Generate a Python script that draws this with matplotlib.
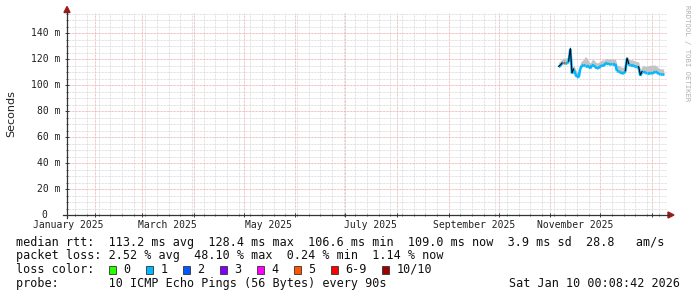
import numpy as np
import pandas as pd
import matplotlib
matplotlib.use("Agg")
import matplotlib.pyplot as plt
import matplotlib.dates as mdates
from matplotlib.patches import Polygon, Rectangle
from matplotlib.lines import Line2D
from matplotlib.collections import LineCollection

# ---------------- data ----------------
start_time = "2025-01-15 00:08:42"
end_time = "2026-01-10 00:08:42"
data_start = "2025-11-06"

median_ms = [114.5, 115.5, 117.0, 118.0, 117.0, 117.5, 118.5, 128.4, 109.5, 112.5,
             109.0, 107.0, 106.6, 113.5, 115.5, 116.0, 115.5, 115.5, 115.0, 113.5,
             116.0, 115.8, 114.5, 113.5, 113.8, 115.0, 115.8, 115.3, 117.3, 117.5,
             116.5, 116.8, 116.5, 116.5, 116.8, 111.5, 111.0, 110.5, 109.5, 109.8,
             111.0, 121.0, 116.5, 115.8, 115.8, 115.5, 114.8, 114.5, 114.3, 107.8,
             110.5, 111.0, 110.0, 109.7, 109.7, 109.8, 109.7, 110.0, 111.0, 110.5,
             109.2, 109.0, 109.0, 109.0]
smoke_hi_ms = [117.5, 118.5, 120.0, 121.0, 120.5, 121.0, 121.5, 128.4, 113.0, 115.5,
               112.5, 110.0, 110.0, 117.0, 119.0, 119.5, 122.0, 121.0, 118.5, 117.0,
               119.5, 119.5, 118.0, 117.0, 117.5, 118.5, 119.5, 119.0, 120.4, 120.5,
               120.0, 120.3, 120.0, 120.0, 120.3, 115.5, 115.0, 114.5, 113.5, 114.0,
               115.0, 122.0, 120.0, 119.5, 119.5, 119.0, 118.5, 118.0, 118.0, 111.5,
               114.5, 115.0, 114.5, 114.5, 115.0, 115.3, 115.3, 115.3, 115.5, 114.5,
               113.0, 112.5, 112.5, 112.5]
loss_cat = [1] * 64
loss_cat[3] = 5
black_segments = [(0, 2), (6, 9), (40, 42), (48, 50)]

y_ticks = [0, 20, 40, 60, 80, 100, 120, 140]
y_tick_labels = ["0  ", "20 m", "40 m", "60 m", "80 m", "100 m", "120 m", "140 m"]
month_labels = ["January 2025", "March 2025", "May 2025", "July 2025",
                "September 2025", "November 2025"]
label_dates = ["2025-01-16", "2025-03-16", "2025-05-16", "2025-07-16",
               "2025-09-16", "2025-11-16"]

loss_names = ["0", "1", "2", "3", "4", "5", "6-9", "10/10"]
loss_colors = ["#26ff00", "#00b8ff", "#0059ff", "#7e00ff", "#ff00ff", "#ff5500",
               "#ff0000", "#a10000"]
loss_color_map = {0: "#26ff00", 1: "#00b8ff", 2: "#0059ff", 3: "#7e00ff",
                  4: "#ff00ff", 5: "#ff5500", 6: "#ff0000", 10: "#a10000"}

line_rtt = "median rtt:  113.2 ms avg  128.4 ms max  106.6 ms min  109.0 ms now  3.9 ms sd  28.8   am/s"
line_loss = "packet loss: 2.52 % avg  48.10 % max  0.24 % min  1.14 % now"
line_probe = "probe:       10 ICMP Echo Pings (56 Bytes) every 90s"
now_stamp = "Sat Jan 10 00:08:42 2026"
watermark = "RRDTOOL / TOBI OETIKER"

# ---------------- figure ----------------
W, H = 697, 297
fig = plt.figure(figsize=(W / 100, H / 100), dpi=100, facecolor="white")
MONO = "DejaVu Sans Mono"

def fx(x):
    return x / W

def fy(y):
    return 1 - y / H

L, R, T, B = 67, 667, 13, 215
ax = fig.add_axes([fx(L), fy(B), fx(R) - fx(L), fy(T) - fy(B)])
ax.set_facecolor("white")

t0 = pd.Timestamp(start_time)
t1 = pd.Timestamp(end_time)
ax.set_xlim(mdates.date2num(t0), mdates.date2num(t1))
ax.set_ylim(0, 155.5)

for s in ax.spines.values():
    s.set_visible(False)

# grid
ax.xaxis.set_major_locator(mdates.MonthLocator())
ax.xaxis.set_minor_locator(mdates.WeekdayLocator(byweekday=mdates.MO))
ax.set_yticks(y_ticks)
ax.set_yticks(np.arange(0, 156, 5), minor=True)
dot = (0, (0.72, 0.72))
ax.grid(which="minor", color="#d8d8d8", linestyle=dot, linewidth=0.72)
ax.grid(which="major", color="#eeaaaa", linestyle=dot, linewidth=0.72)
ax.set_axisbelow(True)

ax.set_xticklabels([])
ax.set_yticklabels([])
ax.tick_params(which="major", direction="inout", length=3.0, width=0.72, color="#404040")
ax.tick_params(which="minor", direction="inout", length=1.5, width=0.72, color="#606060")

# data
dates = pd.date_range(data_start, periods=len(median_ms), freq="D")
xd = mdates.date2num(dates)
med = np.array(median_ms)
hi = np.array(smoke_hi_ms)
ax.fill_between(xd, med - 1.0, hi, color="#c4c4c4", linewidth=0, zorder=2)
pts = np.column_stack([xd, med - 0.6])
segs = [pts[i:i + 2] for i in range(len(pts) - 1)]
cols = [loss_color_map[loss_cat[i]] for i in range(len(pts) - 1)]
ax.add_collection(LineCollection(segs, colors=cols, linewidths=1.9, zorder=3,
                                 capstyle="butt"))
for a, b in black_segments:
    ax.plot(xd[a:b + 1], med[a:b + 1], color="black", linewidth=0.75, zorder=4)

# axes lines + arrows
axis_col = "#333333"
arrow_col = "#9b1c1c"
fig.add_artist(Line2D([fx(L), fx(L)], [fy(B + 3), fy(12)], color=axis_col, linewidth=0.9))
fig.add_artist(Line2D([fx(63), fx(669)], [fy(B), fy(B)], color=axis_col, linewidth=0.9))
fig.add_artist(Polygon([[fx(L), fy(6.5)], [fx(L - 3), fy(12.5)], [fx(L + 3), fy(12.5)]],
                       closed=True, color=arrow_col, transform=fig.transFigure))
fig.add_artist(Polygon([[fx(674), fy(B)], [fx(668), fy(B - 3)], [fx(668), fy(B + 3)]],
                       closed=True, color=arrow_col, transform=fig.transFigure))

# y tick labels
for v, lab in zip(y_ticks, y_tick_labels):
    ypix = B - v * (B - T) / 155.5
    fig.text(fx(60), fy(ypix), lab, ha="right", va="center", family=MONO,
             fontsize=7.0, color="#202020")

# x month labels
for d, lab in zip(label_dates, month_labels):
    xn = mdates.date2num(pd.Timestamp(d))
    xpix = L + (xn - mdates.date2num(t0)) / (mdates.date2num(t1) - mdates.date2num(t0)) * (R - L)
    fig.text(fx(xpix), fy(224.5), lab, ha="center", va="center", family=MONO,
             fontsize=7.0, color="#202020")

# y label
fig.text(fx(11), fy(114), "Seconds", rotation=90, ha="center", va="center",
         family="DejaVu Sans", fontsize=8.0, color="#202020")

# watermark
fig.text(fx(687), fy(5), watermark, rotation=-90, ha="center", va="top",
         family=MONO, fontsize=5.2, color="#b0b0b0")

# legend lines
FS = 8.5
fig.text(fx(16), fy(246), line_rtt, ha="left", va="baseline", family=MONO, fontsize=FS, color="#101010")
fig.text(fx(16), fy(259.5), line_loss, ha="left", va="baseline", family=MONO, fontsize=FS, color="#101010")
fig.text(fx(16), fy(273), "loss color:", ha="left", va="baseline", family=MONO, fontsize=FS, color="#101010")
fig.text(fx(16), fy(287), line_probe, ha="left", va="baseline", family=MONO, fontsize=FS, color="#101010")
fig.text(fx(680), fy(287), now_stamp, ha="right", va="baseline", family=MONO, fontsize=FS, color="#101010")

bx = 108.7
for name, col in zip(loss_names, loss_colors):
    fig.add_artist(Rectangle((fx(bx), fy(273.5)), fx(7.3), fy(266) - fy(273.5),
                             facecolor=col, edgecolor="#333333", linewidth=0.6,
                             transform=fig.transFigure))
    fig.text(fx(bx + 14.6), fy(273), name, ha="left", va="baseline", family=MONO,
             fontsize=FS, color="#101010")
    bx += 14.6 + 7.1 * len(name) + 15.3

fig.savefig("out.png", dpi=100, facecolor="white")
